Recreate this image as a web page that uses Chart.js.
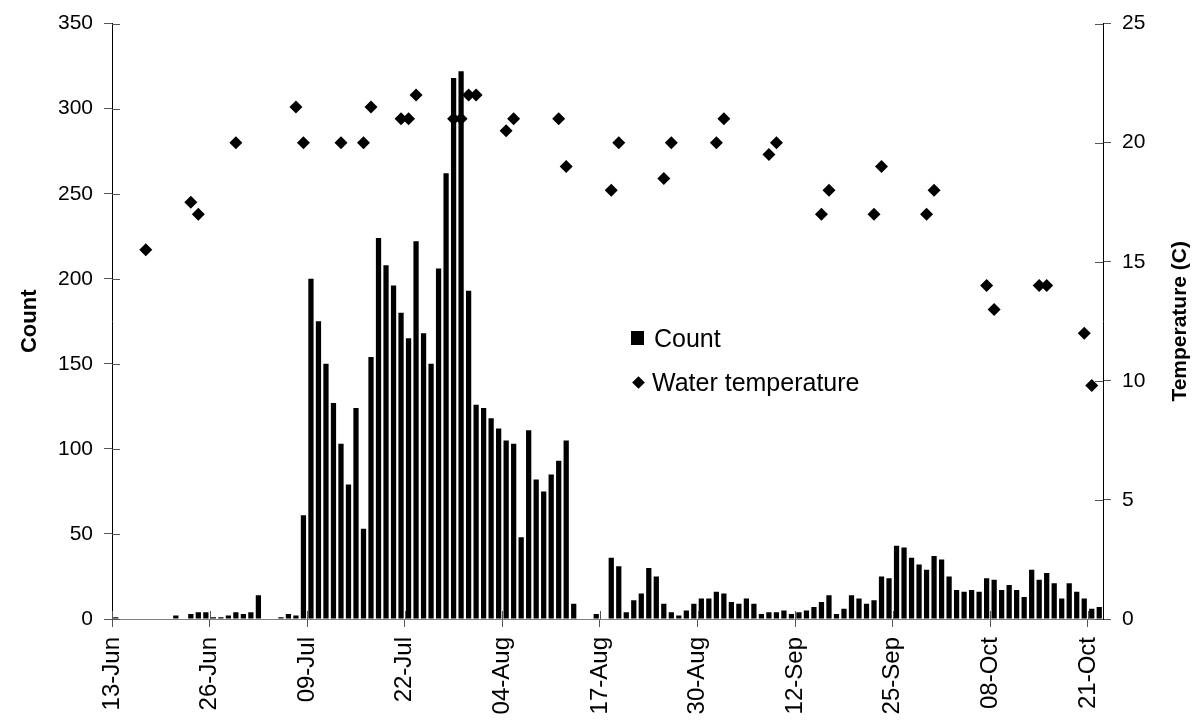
<!DOCTYPE html>
<html>
<head>
<meta charset="utf-8">
<script src="https://cdn.jsdelivr.net/npm/chart.js@4.4.0/dist/chart.umd.min.js"></script>
<style>
  body { margin: 0; background: #fff; }
  #wrap { position: relative; width: 1199px; height: 725px; }
  #legend { position: absolute; left: 0; top: 0; font-family: "Liberation Sans", Arial, sans-serif; font-size: 25px; color: #000; }
  .item { position: absolute; display: flex; align-items: center; height: 30px; white-space: nowrap; }
  .box { display: inline-block; width: 13px; height: 14px; background: #000; margin-right: 10px; }
  .dia { display: inline-block; width: 9px; height: 9px; background: #000; transform: rotate(45deg); margin: 0 9px 0 3px; }
</style>
</head>
<body>
<div id="wrap">
  <canvas id="myChart" width="1199" height="725"></canvas>
  <div id="legend"></div>
</div>
<script>
// daily categories, 13-Jun .. 23-Oct
var startDay = new Date(2001, 5, 13)
var dayCount = 132
var months = ['Jan','Feb','Mar','Apr','May','Jun','Jul','Aug','Sep','Oct','Nov','Dec']

var tickLabels = ['13-Jun','26-Jun','09-Jul','22-Jul','04-Aug','17-Aug','30-Aug','12-Sep','25-Sep','08-Oct','21-Oct']

// count per day (null = no sample)
var counts = [
    1, null, null, null, null, null, null, null, 2, null,
    3, 4, 4, 1, 1, 2, 4, 3, 4, 14,
    null, null, 1, 3, 2, 61, 200, 175, 150, 127,
    103, 79, 124, 53, 154, 224, 208, 196, 180, 165,
    222, 168, 150, 206, 262, 318, 322, 193, 126, 124,
    118, 112, 105, 103, 48, 111, 82, 75, 85, 93,
    105, 9, null, null, 3, null, 36, 31, 4, 11,
    15, 30, 25, 9, 4, 2, 5, 9, 12, 12,
    16, 15, 10, 9, 12, 9, 3, 4, 4, 5,
    3, 4, 5, 7, 10, 14, 3, 6, 14, 12,
    9, 11, 25, 24, 43, 42, 36, 32, 29, 37,
    35, 25, 17, 16, 17, 16, 24, 23, 17, 20,
    17, 13, 29, 23, 27, 21, 12, 21, 16, 12,
    6, 7
]

var tempDates = ['17-Jun','23-Jun','24-Jun','29-Jun','07-Jul','08-Jul','13-Jul','16-Jul','17-Jul','21-Jul',
    '22-Jul','23-Jul','28-Jul','29-Jul','30-Jul','31-Jul','04-Aug','05-Aug','11-Aug','12-Aug',
    '18-Aug','19-Aug','25-Aug','26-Aug','01-Sep','02-Sep','08-Sep','09-Sep','15-Sep','16-Sep',
    '22-Sep','23-Sep','29-Sep','30-Sep','07-Oct','08-Oct','14-Oct','15-Oct','20-Oct','21-Oct']
var tempValues = [15.5, 17.5, 17, 20, 21.5, 20, 20, 20, 21.5, 21,
    21, 22, 21, 21, 22, 22, 20.5, 21, 21, 19,
    18, 20, 18.5, 20, 20, 21, 19.5, 20, 17, 18,
    17, 19, 17, 18, 14, 13, 14, 14, 12, 9.8]

var dates = []
for (let i = 0; i < dayCount; i++) {
    let d = new Date(startDay.getFullYear(), startDay.getMonth(), startDay.getDate() + i)
    dates.push(String(d.getDate()).padStart(2, '0') + '-' + months[d.getMonth()])
}

var temps = dates.map(function (d) {
    let k = tempDates.indexOf(d)
    return k < 0 ? null : tempValues[k]
})

var FONT = '"Liberation Sans", Arial, sans-serif'
Chart.defaults.font.family = FONT
Chart.defaults.font.size = 21
Chart.defaults.color = '#000'

// inner halves of the crossing tick marks + axis titles
const extras = {
    id: 'extras',
    afterDraw(chart) {
        const ctx = chart.ctx, area = chart.chartArea
        const x = chart.scales.x, y = chart.scales.y, y1 = chart.scales.y1
        ctx.save()
        ctx.strokeStyle = '#555'
        ctx.lineWidth = 1
        ctx.beginPath()
        y.ticks.forEach(function (t) {
            let p = Math.round(y.getPixelForValue(t.value)) + 0.5
            ctx.moveTo(area.left, p); ctx.lineTo(area.left + 8, p)
        })
        y1.ticks.forEach(function (t) {
            let p = Math.round(y1.getPixelForValue(t.value)) + 0.5
            ctx.moveTo(area.right, p); ctx.lineTo(area.right - 8, p)
        })
        const half = (x.getPixelForValue(1) - x.getPixelForValue(0)) / 2
        dates.forEach(function (d, i) {
            if (tickLabels.includes(d)) {
                let p = Math.round(x.getPixelForValue(i) - half) + 0.5
                ctx.moveTo(p, area.bottom); ctx.lineTo(p, area.bottom - 8)
            }
        })
        ctx.stroke()

        ctx.fillStyle = '#000'
        ctx.textAlign = 'center'
        ctx.textBaseline = 'middle'
        const cy = (area.top + area.bottom) / 2
        ctx.font = 'bold 22px ' + FONT
        ctx.save(); ctx.translate(30, cy); ctx.rotate(-Math.PI / 2); ctx.fillText('Count', 0, 0); ctx.restore()
        ctx.font = 'bold 21px ' + FONT
        ctx.save(); ctx.translate(1180, cy); ctx.rotate(-Math.PI / 2); ctx.fillText('Temperature (C)', 0, 0); ctx.restore()
        ctx.restore()
    }
}

const ctx = document.getElementById('myChart').getContext('2d')
const myChart = new Chart(ctx, {
    data: {
        labels: dates,
        datasets: [{
            type: 'line',
            label: 'Water temperature',
            data: temps,
            yAxisID: 'y1',
            showLine: false,
            pointStyle: 'rectRot',
            pointRadius: 6.5,
            pointBorderWidth: 0,
            pointBackgroundColor: '#000',
            pointBorderColor: '#000',
            order: 0
        }, {
            type: 'bar',
            label: 'Count',
            data: counts,
            yAxisID: 'y',
            backgroundColor: '#000',
            borderWidth: 0,
            barPercentage: 0.7,
            categoryPercentage: 1.0,
            order: 1
        }]
    },
    options: {
        responsive: false,
        animation: false,
        devicePixelRatio: 1,
        layout: { padding: { top: 23, left: 0, right: 0, bottom: 0 } },
        plugins: { legend: { display: false }, tooltip: { enabled: false } },
        scales: {
            x: {
                type: 'category',
                offset: true,
                grid: {
                    offset: true,
                    drawOnChartArea: false,
                    tickLength: 8,
                    color: function (c) { return tickLabels.includes(dates[c.index]) ? '#555' : 'rgba(0,0,0,0)' }
                },
                border: { color: '#808080' },
                ticks: {
                    autoSkip: false,
                    maxRotation: 90,
                    minRotation: 90,
                    padding: 10,
                    labelOffset: -3.75,
                    font: { size: 24 },
                    callback: function (v, i) { return tickLabels.includes(dates[i]) ? dates[i] : '' }
                },
                afterFit: function (s) { s.height = 106 }
            },
            y: {
                position: 'left',
                min: 0, max: 350,
                ticks: { stepSize: 50, padding: 11 },
                grid: { drawOnChartArea: false, tickLength: 8, color: '#555' },
                border: { color: '#000' },
                afterFit: function (s) { s.width = 112 }
            },
            y1: {
                position: 'right',
                min: 0, max: 25,
                ticks: { stepSize: 5, padding: 11 },
                grid: { drawOnChartArea: false, tickLength: 8, color: '#555' },
                border: { color: '#000' },
                afterFit: function (s) { s.width = 96 }
            }
        }
    },
    plugins: [extras]
})

// legend placed inside the plot like the original
var legendPos = { 'Count': [631, 323, 'box'], 'Water temperature': [631, 367, 'dia'] }
var legendEl = document.getElementById('legend')
myChart.data.datasets.slice().reverse().forEach(function (ds) {
    let p = legendPos[ds.label]
    let item = document.createElement('div')
    item.className = 'item'
    item.style.left = p[0] + 'px'
    item.style.top = p[1] + 'px'
    item.innerHTML = '<span class="' + p[2] + '"></span><span>' + ds.label + '</span>'
    legendEl.appendChild(item)
})
</script>
</body>
</html>
